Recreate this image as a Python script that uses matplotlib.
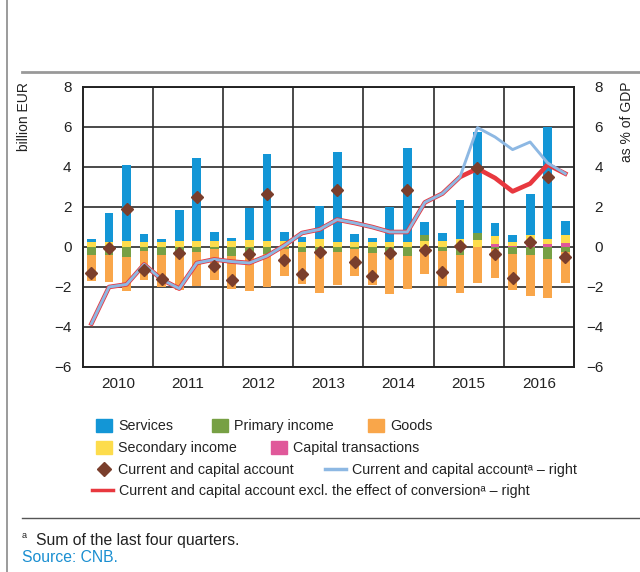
import numpy as np
import matplotlib
matplotlib.use('Agg')
import matplotlib.pyplot as plt
from matplotlib.patches import Patch
from matplotlib.lines import Line2D

# narrow font first, with fallbacks for missing glyphs
plt.rcParams['font.family'] = ['Liberation Sans Narrow', 'Liberation Sans', 'DejaVu Sans']
plt.rcParams['axes.unicode_minus'] = True

years = ['2010', '2011', '2012', '2013', '2014', '2015', '2016']

# quarterly components, billion EUR (2010Q1 .. 2016Q4)
services = [0.13, 1.43, 3.84, 0.38, 0.11, 1.55, 4.19, 0.44,
            0.17, 1.62, 4.35, 0.45, 0.23, 1.65, 4.46, 0.40,
            0.20, 1.75, 4.70, 0.65, 0.40, 1.95, 5.07, 0.67,
            0.39, 2.09, 5.58, 0.72]
primary_income = [-0.40, -0.40, -0.48, -0.18, -0.40, -0.32, -0.27, -0.10,
                  -0.43, -0.32, -0.37, -0.10, -0.27, -0.23, -0.23, -0.10,
                  -0.28, -0.40, -0.43, 0.30, -0.20, -0.40, 0.33, -0.08,
                  -0.35, -0.38, -0.58, -0.23]
goods = [-1.32, -1.35, -1.72, -1.49, -1.60, -1.81, -1.70, -1.57,
         -1.65, -1.90, -1.63, -1.35, -1.60, -2.05, -1.65, -1.35,
         -1.60, -1.93, -1.67, -1.37, -1.75, -1.88, -1.78, -1.45,
         -1.78, -2.09, -1.95, -1.55]
secondary_income = [0.27, 0.27, 0.28, 0.27, 0.27, 0.28, 0.28, 0.29,
                    0.28, 0.33, 0.28, 0.30, 0.27, 0.40, 0.27, 0.27,
                    0.23, 0.23, 0.27, 0.30, 0.32, 0.38, 0.35, 0.40,
                    0.20, 0.46, 0.29, 0.40]
capital = [0, 0, 0, 0, 0, 0, 0, 0,
           0, 0, 0, 0, 0, 0, 0, 0,
           0, 0, 0, 0, 0, 0, 0, 0.15,
           0.03, 0.12, 0.13, 0.20]
cc_account = [-1.30, -0.05, 1.92, -1.13, -1.58, -0.28, 2.50, -0.93,
              -1.63, -0.33, 2.65, -0.67, -1.33, -0.25, 2.87, -0.77,
              -1.45, -0.32, 2.87, -0.13, -1.27, 0.05, 3.97, -0.33,
              -1.53, 0.23, 3.48, -0.52]

# four-quarter sums, % of GDP (right axis)
cc_gdp = [-3.83, -2.00, -1.87, -0.87, -1.62, -2.08, -0.80, -0.62,
          -0.73, -0.80, -0.45, 0.08, 0.70, 0.88, 1.37, 1.20,
          1.00, 0.75, 0.75, 2.23, 2.67, 3.50, 5.97, 5.50,
          4.87, 5.25, 4.20, 3.67]
cc_gdp_excl = [-3.83, -2.00, -1.87, -0.87, -1.62, -2.08, -0.80, -0.62,
               -0.73, -0.80, -0.45, 0.08, 0.70, 0.88, 1.37, 1.20,
               1.00, 0.75, 0.75, 2.23, 2.67, 3.50, 3.92, 3.45,
               2.78, 3.17, 4.12, 3.67]

c_serv = '#1396d6'
c_prim = '#77a044'
c_goods = '#f9a64a'
c_sec = '#fddc4c'
c_cap = '#e0589a'
c_diam = '#7a3e2c'
c_blue = '#8db8e3'
c_red = '#e8383f'
c_text = '#222222'

fig = plt.figure(figsize=(6.4, 5.72), dpi=100)
ax = fig.add_axes([82.7 / 640, 205 / 572, 491.3 / 640, 280 / 572])

x = np.arange(len(services))
pos = np.zeros(len(x))
neg = np.zeros(len(x))
# stacking order from the zero line outwards
for vals, col in [(capital, c_cap), (secondary_income, c_sec),
                  (primary_income, c_prim), (services, c_serv), (goods, c_goods)]:
    v = np.array(vals, dtype=float)
    base = np.where(v >= 0, pos, neg)
    ax.bar(x, v, 0.5, bottom=base, color=col, linewidth=0, zorder=3)
    pos = pos + np.clip(v, 0, None)
    neg = neg + np.clip(v, None, 0)

ax.set_xlim(-0.5, len(x) - 0.5)
ax.set_ylim(-6, 8)
ax.set_yticks(np.arange(-6, 9, 2))
ax.set_xticks(np.arange(3.5, len(x) - 1, 4))
ax.set_xticklabels([])
ax.set_xticks(np.arange(1.5, len(x), 4), minor=True)
ax.set_xticklabels(years, minor=True)
ax.tick_params(axis='x', which='both', length=0, labelsize=11, pad=7.5, colors=c_text)
ax.tick_params(axis='y', length=0, labelsize=11, pad=8, colors=c_text)
ax.grid(True, which='major', color='#2b2b2b', linewidth=1.2, zorder=1)
ax.set_axisbelow(True)
for s in ax.spines.values():
    s.set_color(c_text)
    s.set_linewidth(1.4)

ax2 = ax.twinx()
ax2.set_ylim(-6, 8)
ax2.set_yticks(np.arange(-6, 9, 2))
ax2.tick_params(axis='y', length=0, labelsize=11, pad=21, colors=c_text)
for lab in ax2.get_yticklabels():
    lab.set_horizontalalignment('right')
for s in ax2.spines.values():
    s.set_visible(False)
ax2.plot(x, cc_gdp_excl, color=c_red, linewidth=3.3, zorder=4)
ax2.plot(x, cc_gdp, color=c_blue, linewidth=2.1, zorder=5)
# both axes share the same -6..8 scale, so diamonds can sit on top here
ax2.plot(x, cc_account, linestyle='none', marker='D', markersize=6.5,
         color=c_diam, zorder=6)

fig.text(24 / 640, 1 - 82 / 572, 'billion EUR', rotation=90, ha='center', va='top',
         fontsize=10, color=c_text)
fig.text(627 / 640, 1 - 81 / 572, 'as % of GDP', rotation=90, ha='center', va='top',
         fontsize=10, color=c_text)

# legend entries placed one by one to follow the original layout
fs = 10.3
sq = dict(handlelength=1.1, handleheight=1.1, handletextpad=0.45)
ln = dict(handlelength=1.45, handletextpad=0.45)
entries = [
    (Patch(color=c_serv), 'Services', 96, 426, sq),
    (Patch(color=c_prim), 'Primary income', 212, 426, sq),
    (Patch(color=c_goods), 'Goods', 368, 426, sq),
    (Patch(color=c_sec), 'Secondary income', 96, 448, sq),
    (Patch(color=c_cap), 'Capital transactions', 271, 448, sq),
    (Line2D([], [], linestyle='none', marker='D', markersize=7, color=c_diam),
     'Current and capital account', 96, 470, dict(handlelength=1.1, handletextpad=0.45)),
    (Line2D([], [], color=c_blue, linewidth=2.5),
     'Current and capital account\u1d43 \u2013 right', 325, 470, ln),
    (Line2D([], [], color=c_red, linewidth=2.5),
     'Current and capital account excl. the effect of conversion\u1d43 \u2013 right', 92, 491, ln),
]
for h, lab, px, py, kw in entries:
    fig.legend([h], [lab], loc='center left', bbox_to_anchor=(px / 640, 1 - py / 572),
               frameon=False, borderpad=0, borderaxespad=0, fontsize=fs,
               labelcolor=c_text, **kw)

# frame lines of the panel
fig.add_artist(Line2D([7 / 640, 7 / 640], [0, 1], color='#8a8a8a', linewidth=1.2))
fig.add_artist(Line2D([22 / 640, 1], [1 - 72 / 572] * 2, color='#999999', linewidth=2))
fig.add_artist(Line2D([22 / 640, 1], [1 - 518 / 572] * 2, color='#555555', linewidth=1))

fig.text(22 / 640, 1 - 536 / 572, 'a', fontsize=6.5, family='Liberation Sans',
         va='center', color=c_text)
fig.text(36 / 640, 1 - 541 / 572, 'Sum of the last four quarters.', fontsize=11.3,
         family='Liberation Sans', va='center', color=c_text)
fig.text(22 / 640, 1 - 557 / 572, 'Source: CNB.', fontsize=11.3,
         family='Liberation Sans', va='center', color='#1a8fd1')

fig.savefig('out.png', dpi=100)
